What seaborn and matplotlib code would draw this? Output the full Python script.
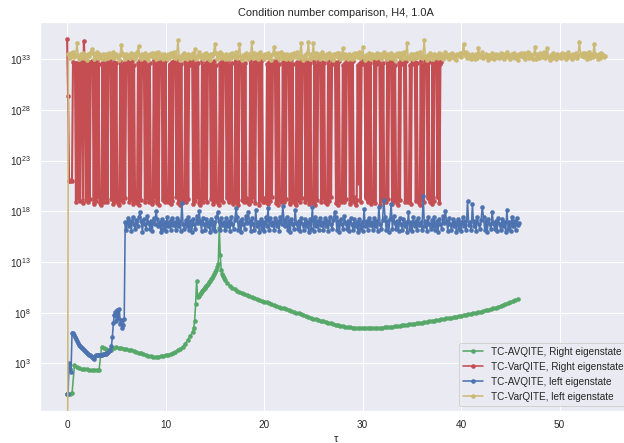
import numpy as np
import matplotlib
matplotlib.use("Agg")
import matplotlib.pyplot as plt
from matplotlib.ticker import NullLocator
import seaborn as sns

# ---------------- data (exponents = log10 of condition number) ----
labels = ["TC-AVQITE, Right eigenstate", "TC-VarQITE, Right eigenstate",
          "TC-AVQITE, left eigenstate", "TC-VarQITE, left eigenstate"]
colors = ["#55A868", "#C44E52", "#4C72B0", "#CCB974"]

# Green: TC-AVQITE, Right eigenstate (three segments: start, step, exponents)
green_a_start, green_a_step = 0.0, 0.25
green_a_exp = [0.0, 0.0, 0.05, 2.8, 2.6, 2.5, 2.45, 2.42, 2.4, 2.38, 2.37, 2.36, 2.36, 2.36,
               4.64, 4.55, 4.45, 4.35, 4.3, 4.55, 4.57, 4.53, 4.48, 4.43, 4.38, 4.33, 4.27,
               4.2, 4.13, 4.05, 3.98, 3.9, 3.83, 3.76, 3.7, 3.66, 3.65, 3.66, 3.7, 3.75, 3.8,
               3.87, 3.95, 4.04, 4.15, 4.3, 4.45, 4.65, 4.95, 5.3, 5.7]
green_b_start, green_b_step = 12.75, 0.1
green_b_exp = [6.1, 6.5, 7.2, 8.9, 11.1, 9.5, 9.65, 9.8, 9.95, 10.1, 10.25, 10.35, 10.45,
               10.55, 10.65, 10.72, 10.85, 11.0, 11.15, 11.3, 11.45, 11.62, 11.86, 12.05,
               12.25, 12.5, 12.84, 16.4, 13.66, 12.2, 11.85, 11.6, 11.4, 11.2]
green_c_start, green_c_step = 16.25, 0.25
green_c_exp = [10.95, 10.65, 10.45, 10.3, 10.15, 10.05, 9.93, 9.82, 9.72, 9.62, 9.53, 9.44,
               9.35, 9.27, 9.18, 9.1, 9.01, 8.93, 8.84, 8.76, 8.67, 8.59, 8.5, 8.42, 8.33,
               8.25, 8.17, 8.09, 8.01, 7.93, 7.85, 7.77, 7.68, 7.6, 7.51, 7.42, 7.34, 7.27,
               7.2, 7.13, 7.06, 7.0, 6.94, 6.88, 6.82, 6.77, 6.72, 6.67, 6.63, 6.59, 6.56,
               6.53, 6.51, 6.49, 6.48, 6.47, 6.46, 6.46, 6.46, 6.47, 6.48, 6.49, 6.5, 6.52,
               6.54, 6.56, 6.58, 6.61, 6.64, 6.67, 6.7, 6.74, 6.77, 6.81, 6.84, 6.87, 6.91,
               6.94, 6.98, 7.02, 7.06, 7.1, 7.14, 7.18, 7.22, 7.26, 7.3, 7.35, 7.39, 7.43,
               7.47, 7.52, 7.56, 7.61, 7.65, 7.7, 7.75, 7.8, 7.85, 7.9, 7.95, 8.0, 8.05, 8.1,
               8.16, 8.22, 8.28, 8.35, 8.42, 8.5, 8.58, 8.66, 8.75, 8.84, 8.93, 9.03, 9.11,
               9.2, 9.3]

# Red: TC-VarQITE, Right eigenstate (tau = 0, 0.1, ..., 38.0)
red_start, red_step = 0.0, 0.1
red_exp = [35.0, 29.4, 21.0, 21.0, 21.1, 21.0, 32.7, 32.5, 32.6, 18.9,
           32.6, 19.3, 32.5, 19.0, 32.7, 32.4, 18.8, 34.8, 32.6, 19.1,
           32.5, 18.9, 32.7, 19.2, 32.6, 32.8, 32.4, 18.7, 32.6, 19.0,
           32.9, 19.4, 32.5, 18.8, 18.6, 19.1, 32.7, 18.9, 32.6, 19.3,
           32.8, 18.9, 32.4, 32.6, 32.9, 19.2, 32.5, 18.7, 32.7, 19.0,
           32.6, 19.4, 18.8, 18.6, 32.8, 19.1, 32.4, 18.9, 32.6, 19.3,
           32.9, 32.5, 32.7, 18.9, 32.6, 19.2, 32.8, 18.7, 32.4, 19.0,
           19.4, 18.8, 32.6, 18.6, 32.9, 19.1, 32.5, 32.7, 32.6, 18.9,
           32.8, 19.3, 32.4, 18.9, 32.6, 19.2, 18.7, 19.0, 32.9, 19.4,
           32.5, 18.8, 32.7, 18.6, 32.6, 32.8, 32.4, 19.1, 32.6, 18.9,
           32.9, 19.3, 18.9, 19.2, 32.5, 18.7, 32.7, 19.0, 32.6, 32.8,
           32.4, 19.4, 32.6, 18.8, 32.9, 18.6, 32.5, 19.1, 18.9, 19.3,
           32.7, 18.9, 32.6, 19.2, 32.8, 32.4, 32.6, 32.9, 18.7, 32.5,
           19.0, 32.7, 19.4, 32.6, 18.8, 18.6, 19.1, 32.8, 18.9, 32.4,
           19.3, 32.6, 18.9, 32.9, 32.5, 32.7, 19.2, 32.6, 18.7, 32.8,
           19.0, 32.4, 19.4, 18.8, 18.6, 32.6, 19.1, 32.9, 18.9, 32.5,
           32.7, 32.6, 19.3, 32.8, 18.9, 32.4, 19.2, 32.6, 18.7, 19.0,
           19.4, 32.9, 18.8, 32.5, 18.6, 32.7, 32.6, 32.8, 19.1, 32.4,
           18.9, 32.6, 19.3, 18.9, 19.2, 18.7, 32.9, 19.0, 32.5, 19.4,
           32.7, 18.8, 32.6, 32.8, 32.4, 18.6, 32.6, 19.1, 32.9, 18.9,
           19.3, 18.9, 19.2, 32.5, 18.7, 32.7, 19.0, 32.6, 19.4, 32.8,
           32.4, 32.6, 18.8, 32.9, 18.6, 32.5, 19.1, 18.9, 19.3, 32.7,
           18.9, 32.6, 19.2, 32.8, 32.4, 32.6, 18.7, 32.9, 19.0, 32.5,
           19.4, 18.8, 18.6, 32.7, 19.1, 32.6, 18.9, 32.8, 19.3, 32.4,
           32.6, 32.9, 18.9, 32.5, 19.2, 32.7, 18.7, 32.6, 19.0, 19.4,
           18.8, 32.8, 18.6, 32.4, 19.1, 32.6, 32.9, 32.5, 18.9, 32.7,
           19.3, 32.6, 18.9, 19.2, 18.7, 32.8, 19.0, 32.4, 19.4, 32.6,
           32.9, 32.5, 32.7, 18.8, 32.6, 18.6, 32.8, 19.1, 18.9, 19.3,
           32.4, 18.9, 32.6, 19.2, 32.9, 32.5, 32.7, 18.7, 32.6, 19.0,
           32.8, 19.4, 18.8, 18.6, 19.1, 32.4, 20.8, 32.6, 18.9, 32.9,
           32.5, 32.7, 32.6, 19.3, 32.8, 18.9, 32.4, 19.2, 32.6, 18.7,
           19.0, 19.4, 32.9, 18.8, 32.5, 32.7, 32.6, 32.8, 18.6, 32.4,
           19.1, 32.6, 18.9, 19.3, 18.9, 32.9, 19.2, 32.5, 32.7, 32.6,
           18.7, 32.8, 19.0, 32.4, 19.4, 18.8, 18.6, 32.6, 19.1, 32.9,
           32.5, 32.7, 32.6, 18.9, 32.8, 19.3, 18.9, 19.2, 32.4, 18.7,
           32.6, 32.9, 32.5, 32.7, 19.0, 32.6, 19.4, 18.8, 18.6, 32.8,
           19.1, 32.4, 18.9, 32.6, 32.9, 32.5, 19.3, 32.7, 18.9, 19.2,
           18.7, 32.6, 19.0, 32.8, 32.4, 32.6, 19.4, 32.9, 18.8, 32.5,
           32.7]

# Blue: TC-AVQITE, left eigenstate (two segments)
blue_a_start, blue_a_step = 0.0, 0.1
blue_a_exp = [0.0, 0.0, 3.0, 2.4, 2.15, 5.95, 5.95, 5.8, 5.6, 5.4, 5.2, 5.0, 4.85, 4.72,
              4.6, 4.5, 4.4, 4.3, 4.2, 4.1, 4.0, 3.92, 3.85, 3.78, 3.7, 3.62, 3.5, 3.4,
              3.75, 3.78, 3.8, 3.8, 3.81, 3.82, 3.84, 3.86, 3.88, 3.9, 3.93, 3.96, 4.0,
              4.05, 4.1, 4.2, 4.35, 4.7, 5.6, 7.0, 7.8, 8.1, 7.2, 8.3, 7.5, 8.4, 6.9, 7.3,
              6.5, 6.8, 7.4]
blue_b_start, blue_b_step = 5.9, 0.125
blue_b_exp = [16.9, 16.2, 17.3, 16.5, 17.0, 16.1, 17.4, 16.7, 16.3, 17.1,
              16.5, 17.4, 17.9, 17.0, 16.0, 17.2, 16.7, 16.3, 17.5, 16.8,
              16.3, 17.0, 16.1, 17.3, 16.7, 18.0, 17.2, 16.5, 16.9, 16.0,
              17.2, 16.3, 16.9, 16.1, 17.4, 16.5, 17.0, 16.2, 17.3, 16.6,
              16.9, 16.2, 17.3, 16.5, 17.0, 16.1, 18.8, 16.7, 16.3, 17.1,
              16.5, 17.4, 16.2, 17.0, 16.0, 17.2, 16.7, 16.3, 17.5, 16.8,
              18.0, 17.0, 16.1, 17.3, 16.7, 16.2, 17.2, 16.5, 16.9, 16.0,
              17.2, 16.3, 16.9, 16.1, 17.4, 17.9, 17.0, 16.2, 17.3, 16.6,
              16.9, 16.2, 17.3, 16.5, 17.0, 16.1, 17.4, 16.7, 16.3, 17.1,
              18.3, 17.4, 16.2, 17.0, 16.0, 17.2, 16.7, 16.3, 17.5, 16.8,
              17.9, 17.0, 16.1, 17.3, 16.7, 16.2, 18.1, 16.5, 16.9, 16.0,
              17.2, 16.3, 16.9, 16.1, 17.4, 16.5, 18.35, 16.2, 17.3, 16.6,
              16.9, 16.2, 17.3, 16.5, 17.0, 16.1, 17.4, 16.7, 18.5, 17.1,
              16.5, 17.4, 16.2, 17.0, 16.0, 17.2, 16.7, 16.3, 18.1, 16.8,
              16.3, 17.0, 16.1, 17.3, 16.7, 16.2, 17.2, 16.5, 16.9, 16.0,
              17.2, 16.3, 18.4, 16.1, 17.4, 16.5, 17.0, 16.2, 17.3, 16.6,
              16.9, 16.2, 17.3, 16.5, 17.0, 16.1, 17.4, 16.7, 16.3, 17.1,
              17.9, 17.4, 16.2, 17.0, 16.0, 17.2, 16.7, 16.3, 17.5, 16.8,
              16.3, 17.0, 16.1, 17.3, 16.7, 16.2, 17.2, 16.5, 16.9, 16.0,
              17.2, 16.3, 16.9, 16.1, 18.2, 16.5, 17.0, 16.2, 17.3, 16.6,
              16.9, 16.2, 17.3, 16.5, 17.0, 16.1, 18.4, 16.7, 16.3, 17.1,
              19.15, 17.4, 16.2, 17.0, 16.0, 17.2, 18.7, 16.3, 17.5, 16.8,
              16.3, 17.0, 16.1, 17.3, 16.7, 16.2, 17.2, 16.5, 16.9, 16.0,
              17.9, 16.3, 16.9, 16.1, 17.4, 16.5, 17.0, 16.2, 17.3, 16.6,
              16.9, 16.2, 19.5, 16.5, 17.0, 16.1, 17.4, 16.7, 16.3, 17.1,
              16.5, 17.4, 16.2, 17.0, 16.0, 17.2, 16.7, 16.3, 17.5, 16.8,
              18.0, 17.0, 16.1, 17.3, 16.7, 16.2, 17.2, 16.5, 16.9, 16.0,
              17.2, 16.3, 16.9, 16.1, 17.4, 16.5, 17.0, 16.2, 19.0, 16.6,
              16.9, 16.2, 18.7, 16.5, 17.0, 16.1, 17.4, 16.7, 16.3, 17.1,
              18.4, 17.4, 16.2, 17.0, 16.0, 17.2, 16.7, 16.3, 17.9, 16.8,
              16.3, 17.0, 16.1, 17.3, 16.7, 16.2, 17.2, 16.5, 16.9, 16.0,
              18.1, 16.3, 16.9, 16.1, 17.4, 16.5, 17.0, 16.2, 17.3, 16.6,
              16.8]

# Yellow: TC-VarQITE, left eigenstate (first value lies far below the visible range)
yellow_start, yellow_step = 0.0, 0.125
yellow_exp = [-40.0, 33.5, 33.1, 33.6, 33.3, 33.7, 33.2, 33.4, 34.6, 33.3,
              33.0, 33.5, 33.2, 33.6, 33.1, 33.4, 32.9, 33.5, 33.3, 33.6,
              34.0, 33.6, 33.0, 33.4, 33.7, 33.1, 33.5, 33.2, 33.0, 33.5,
              33.3, 33.0, 33.5, 33.1, 33.6, 33.4, 33.2, 33.7, 33.1, 33.3,
              33.5, 33.2, 32.9, 33.4, 34.4, 33.6, 33.3, 33.0, 33.5, 33.2,
              33.4, 33.1, 33.6, 33.2, 33.5, 33.0, 33.3, 33.7, 34.3, 33.4,
              33.0, 33.5, 33.2, 33.6, 33.1, 33.4, 32.9, 33.5, 33.3, 33.6,
              33.2, 33.6, 33.0, 33.4, 33.7, 33.1, 33.5, 33.2, 33.0, 33.5,
              33.3, 33.0, 33.5, 33.1, 33.6, 33.4, 33.2, 33.7, 33.1, 33.3,
              34.9, 33.2, 32.9, 33.4, 33.1, 33.6, 33.3, 33.0, 33.5, 33.2,
              33.4, 33.1, 33.6, 33.2, 34.0, 33.0, 33.3, 33.7, 33.2, 33.4,
              33.0, 33.5, 33.2, 33.6, 33.1, 33.4, 32.9, 33.5, 33.3, 33.6,
              34.5, 33.6, 33.0, 33.4, 33.7, 33.1, 33.5, 33.2, 33.0, 33.5,
              33.3, 33.0, 33.5, 33.1, 33.6, 33.4, 33.2, 33.7, 33.1, 33.3,
              34.5, 33.2, 32.9, 33.4, 33.1, 33.6, 33.3, 33.0, 33.5, 33.2,
              34.7, 33.1, 33.6, 33.2, 33.5, 33.0, 33.3, 33.7, 33.2, 33.4,
              33.0, 33.5, 33.2, 33.6, 33.1, 33.4, 32.9, 33.5, 34.2, 33.6,
              33.2, 33.6, 33.0, 33.4, 33.7, 33.1, 33.5, 33.2, 33.0, 33.5,
              33.3, 33.0, 33.5, 33.1, 33.6, 33.4, 33.2, 33.7, 33.1, 33.3,
              34.6, 33.2, 32.9, 33.4, 33.1, 33.6, 34.7, 33.0, 33.5, 33.2,
              34.6, 33.1, 33.6, 33.2, 33.5, 33.0, 33.3, 33.7, 33.2, 33.4,
              33.0, 33.5, 33.2, 33.6, 33.1, 33.4, 32.9, 33.5, 33.3, 33.6,
              33.2, 33.6, 33.0, 33.4, 34.1, 33.1, 33.5, 33.2, 33.0, 33.5,
              33.3, 33.0, 33.5, 33.1, 33.6, 33.4, 33.2, 33.7, 33.1, 33.3,
              34.2, 33.2, 32.9, 33.4, 33.1, 33.6, 33.3, 33.0, 33.5, 33.2,
              33.4, 33.1, 33.6, 33.2, 33.5, 33.0, 33.3, 33.7, 33.2, 33.4,
              33.0, 33.5, 33.2, 33.6, 33.1, 33.4, 32.9, 33.5, 33.3, 33.6,
              33.2, 33.6, 33.0, 33.4, 33.7, 33.1, 34.6, 33.2, 33.0, 33.5,
              33.3, 33.0, 33.5, 33.1, 33.6, 33.4, 33.2, 33.7, 33.1, 33.3,
              34.9, 33.2, 32.9, 33.4, 33.1, 33.6, 33.3, 33.0, 33.5, 33.2,
              33.4, 33.1, 33.6, 33.2, 33.5, 33.0, 33.3, 33.7, 33.2, 33.4,
              33.0, 33.5, 33.2, 33.6, 33.1, 33.4, 32.9, 33.5, 33.3, 33.6,
              33.2, 33.6, 34.5, 33.4, 33.7, 33.1, 33.5, 33.2, 33.0, 33.5,
              33.3, 33.0, 33.5, 33.1, 34.1, 33.4, 33.2, 33.7, 33.1, 33.3,
              33.5, 33.2, 32.9, 33.4, 33.1, 33.6, 33.3, 33.0, 33.5, 33.2,
              33.4, 33.1, 33.6, 33.2, 33.5, 33.0, 33.3, 33.7, 33.2, 33.4,
              33.0, 33.5, 33.2, 33.6, 33.1, 33.4, 32.9, 33.5, 33.3, 33.6,
              33.2, 33.6, 33.0, 33.4, 33.7, 33.1, 33.5, 33.2, 33.0, 33.5,
              34.2, 33.0, 33.5, 33.1, 33.6, 33.4, 33.2, 33.7, 33.1, 33.3,
              34.1, 33.2, 32.9, 33.4, 33.1, 33.6, 33.3, 33.0, 33.5, 33.2,
              33.4, 33.1, 33.6, 33.2, 33.5, 33.0, 33.3, 33.7, 33.2, 33.4,
              33.0, 33.5, 33.2, 33.6, 33.1, 33.4, 34.7, 33.5, 33.3, 33.6,
              33.2, 33.6, 33.0, 33.4, 33.7, 33.1, 33.5, 33.2, 34.5, 33.5,
              33.3, 33.0, 33.5, 33.1, 33.6, 33.4, 33.2, 33.3]

x_ticks = [0, 10, 20, 30, 40, 50]
y_tick_exps = [3, 8, 13, 18, 23, 28, 33]
title = "Condition number comparison, H4, 1.0A"
x_label = "τ"


def build(segments):
    taus, vals = [], []
    for start, step, exps in segments:
        taus.append(start + step * np.arange(len(exps)))
        vals.append(10.0 ** np.asarray(exps))
    return np.concatenate(taus), np.concatenate(vals)


series = [
    build([(green_a_start, green_a_step, green_a_exp),
           (green_b_start, green_b_step, green_b_exp),
           (green_c_start, green_c_step, green_c_exp)]),
    build([(red_start, red_step, red_exp)]),
    build([(blue_a_start, blue_a_step, blue_a_exp),
           (blue_b_start, blue_b_step, blue_b_exp)]),
    build([(yellow_start, yellow_step, yellow_exp)]),
]
line_widths = [1.6, 2.1, 1.6, 1.6]

# ---------------- plot ----------------
sns.set_theme(style="darkgrid", context="notebook")
plt.rcParams["font.family"] = ["Liberation Sans", "DejaVu Sans"]
plt.rcParams["path.simplify"] = False

DPI = 72
fig = plt.figure(figsize=(624 / DPI, 443 / DPI), dpi=DPI)
ax = fig.add_axes([40 / 624, (443 - 410.7) / 443, (632.5 - 40) / 624, (410.7 - 22) / 443])

for (tau, val), lab, col, lw in zip(series, labels, colors, line_widths):
    sns.lineplot(x=tau, y=val, ax=ax, color=col, label=lab, marker=".",
                 markersize=8, markeredgecolor=col, markeredgewidth=0.5,
                 linewidth=lw, estimator=None, sort=False)

ax.set_yscale("log")
ax.set_xlim(-2.75, 57.4)
ax.set_ylim(10 ** -1.67, 10 ** 36.67)
ax.set_xticks(x_ticks)
ax.set_yticks([10.0 ** e for e in y_tick_exps])
ax.yaxis.set_minor_locator(NullLocator())
ax.tick_params(labelsize=10)
ax.set_title(title, fontsize=11)
ax.set_xlabel(x_label, fontsize=11)
ax.set_ylabel("")
leg = ax.legend(loc="lower right", fontsize=10)
for line in leg.get_lines():
    line.set_linewidth(1.6)

fig.savefig("out.png", dpi=DPI)
